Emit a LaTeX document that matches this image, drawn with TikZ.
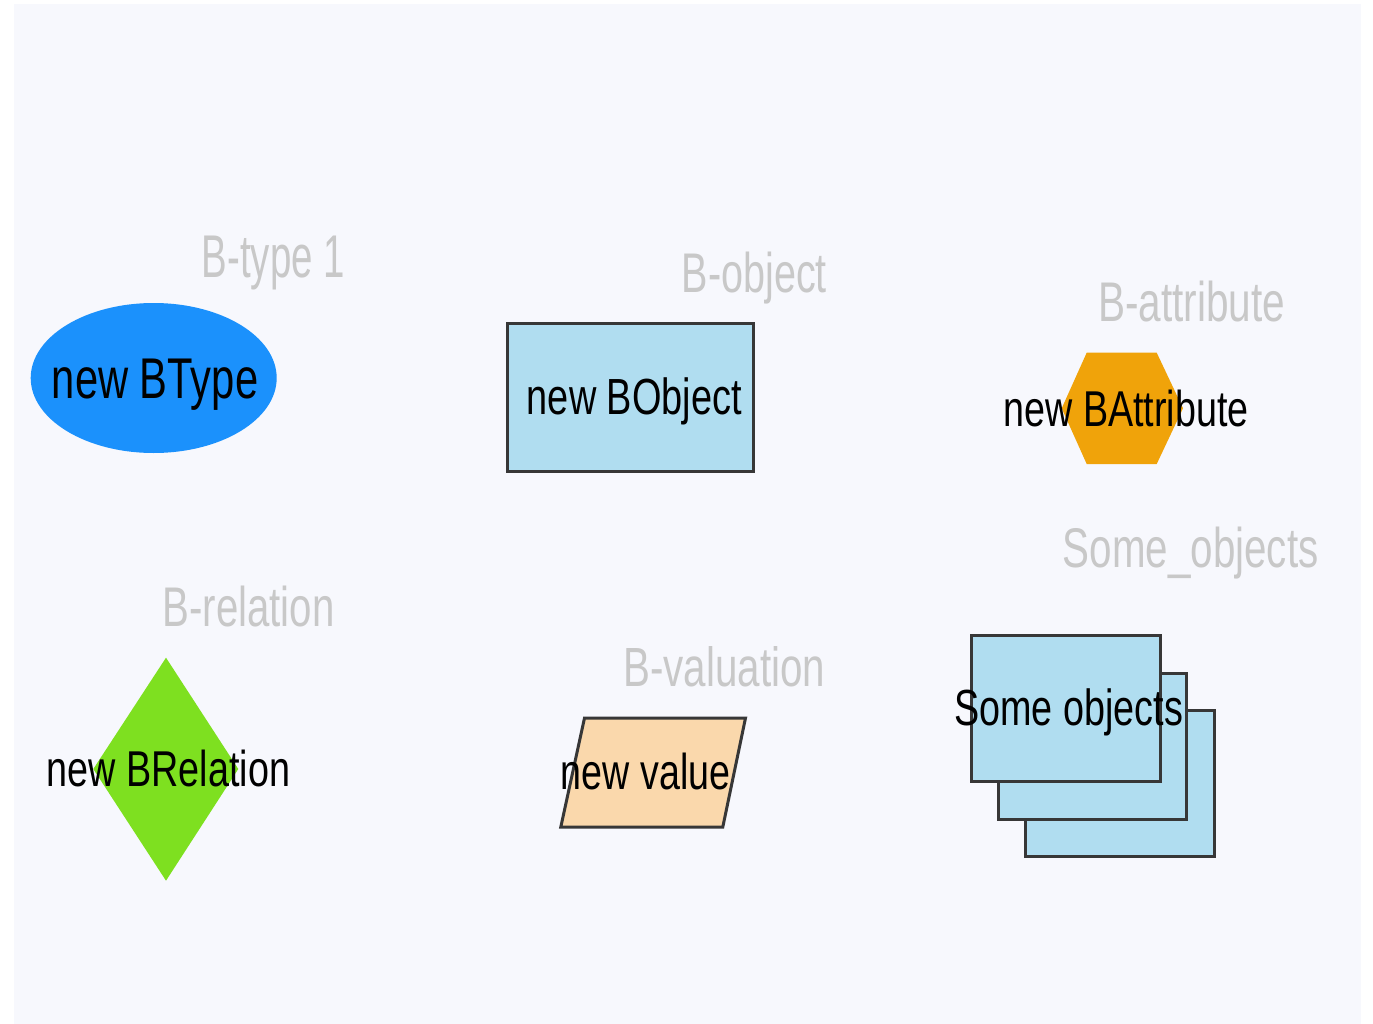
\documentclass[tikz,border=0pt]{standalone}
\usepackage{fontspec}
\setmainfont{Liberation Sans}
\usepackage{graphicx}

\definecolor{canvasbg}{RGB}{247,248,253}
\definecolor{labelgray}{RGB}{200,200,200}
\definecolor{edgegray}{RGB}{55,55,55}
\definecolor{typeblue}{RGB}{27,145,252}
\definecolor{objblue}{RGB}{176,221,240}
\definecolor{attrorange}{RGB}{240,163,10}
\definecolor{relgreen}{RGB}{126,224,32}
\definecolor{valpeach}{RGB}{250,216,172}

% text squeezed to a given width and cap height (in pt)
\newcommand{\sizedtext}[3]{\resizebox{#1pt}{#2pt}{#3}}

\begin{document}
\begin{tikzpicture}[x=1pt,y=-1pt,
  lbl/.style={inner sep=0pt, anchor=base west, text=labelgray},
  txt/.style={inner sep=0pt, anchor=base west, text=black},
  outline/.style={draw=edgegray, line width=3pt, line join=miter}]

\useasboundingbox (0,0) rectangle (1373,1024);
\fill[canvasbg] (14,4) rectangle (1361,1024);

% B-type
\fill[typeblue] (153.7,378) ellipse [x radius=123, y radius=75];
\node[lbl] (typelabel) at (201.7,277) {\sizedtext{143}{41.5}{B-type 1}};
\node[txt] (typetext) at (51.7,398.3) {\sizedtext{206.3}{39.5}{new BType}};

% B-object
\filldraw[outline, fill=objblue] (507.5,323) rectangle (753.5,471.5);
\node[lbl] (objlabel) at (681.7,292.7) {\sizedtext{145}{40.5}{B-object}};
\node[txt] (objtext) at (526.7,414.3) {\sizedtext{215}{36.8}{new BObject}};

% B-attribute
\fill[attrorange] (1061.7,408.3) -- (1086.7,352.7) -- (1156.7,352.7)
  -- (1183,408.3) -- (1156.7,464) -- (1086.7,464) -- cycle;
\node[lbl] (attrlabel) at (1098,321.7) {\sizedtext{187}{40.5}{B-attribute}};
\node[txt] (attrtext) at (1003.3,426.7) {\sizedtext{245}{36.5}{new BAttribute}};

% B-relation
\fill[relgreen] (166,657.7) -- (238.3,769) -- (166,880.7) -- (93.3,769) -- cycle;
\node[lbl] (rellabel) at (162.3,626.7) {\sizedtext{172}{40.5}{B-relation}};
\node[txt] (reltext) at (46.7,786) {\sizedtext{243.3}{36.5}{new BRelation}};

% B-valuation
\filldraw[outline, fill=valpeach] (584.5,718) -- (745.5,718) -- (722.8,827)
  -- (560.8,827) -- cycle;
\node[lbl] (vallabel) at (623.3,686.7) {\sizedtext{201.7}{40}{B-valuation}};
\node[txt] (valtext) at (560.7,789) {\sizedtext{169.3}{36.5}{new value}};

% Some objects (stack of three sheets)
\filldraw[outline, fill=objblue] (1025.8,710.5) rectangle (1214.5,856.2);
\filldraw[outline, fill=objblue] (998.8,673.2) rectangle (1186.8,819.2);
\filldraw[outline, fill=objblue] (971.5,635.8) rectangle (1160.2,781.8);
\node[lbl] (setlabel) at (1062.7,567.7) {\sizedtext{255.6}{40.5}{Some\_objects}};
\node[txt] (settext) at (954,725) {\sizedtext{228.7}{36.8}{Some objects}};

\end{tikzpicture}
\end{document}
